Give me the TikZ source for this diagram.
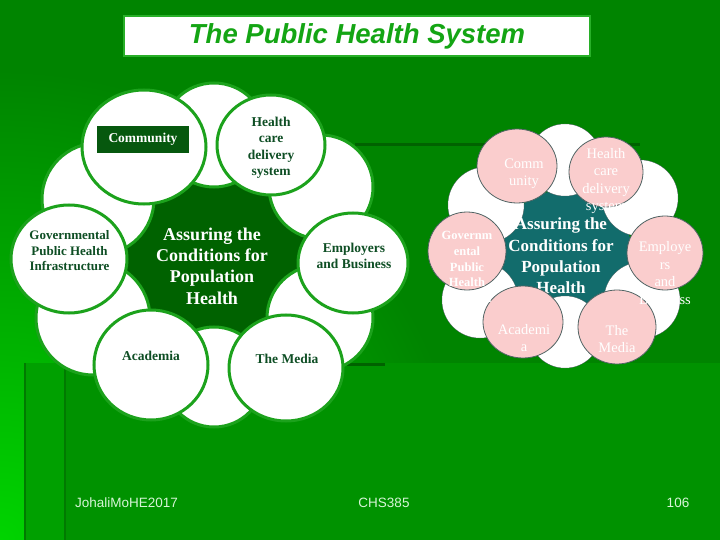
\documentclass[tikz,border=0pt]{standalone}
\usepackage{fontspec}
\setmainfont{Liberation Serif}
\newfontfamily\sansf{Liberation Sans}
\definecolor{bgbase}{RGB}{0,132,0}
\definecolor{bgbright}{RGB}{0,212,0}
\definecolor{panelg}{RGB}{0,146,0}
\definecolor{stripg}{RGB}{0,160,0}
\definecolor{edgeg}{RGB}{0,122,0}
\definecolor{darkline}{RGB}{0,98,0}
\definecolor{titleborder}{RGB}{40,175,40}
\definecolor{titlegreen}{RGB}{20,165,20}
\definecolor{lgborder}{RGB}{28,162,28}
\definecolor{centerdark}{RGB}{0,98,0}
\definecolor{textdark}{RGB}{14,78,36}
\definecolor{boxdark}{RGB}{6,88,14}
\definecolor{tealc}{RGB}{18,108,108}
\definecolor{pinkc}{RGB}{250,205,205}
\definecolor{pinkborder}{RGB}{80,100,100}
\definecolor{footc}{RGB}{215,245,215}
\begin{document}
\begin{tikzpicture}[x=1pt,y=-1pt,
  bgc/.style={fill=white, draw=lgborder, line width=3pt},
  mainc/.style={fill=white, draw=lgborder, line width=3pt},
  whc/.style={fill=white, draw=pinkborder, line width=0.5pt},
  whf/.style={fill=white},
  pinkcirc/.style={fill=pinkc, draw=pinkborder, line width=0.8pt},
  ltext/.style={text=textdark, align=center, inner sep=0pt, font=\bfseries\fontsize{13.5}{16.5}\selectfont},
  ctext/.style={text=white, align=center, inner sep=0pt, font=\bfseries\fontsize{18}{21.3}\selectfont},
  rtext/.style={text=white, align=center, inner sep=0pt, font=\fontsize{14.5}{17.4}\selectfont},
  foot/.style={text=footc, inner sep=0pt, font=\sansf\fontsize{13.5}{15}\selectfont}]
\useasboundingbox (0,0) rectangle (720,540);
% background
\fill[bgbase] (0,0) rectangle (720,540);
\begin{scope}
  \clip (0,0) rectangle (720,540);
  \shade[inner color=bgbright, outer color=bgbase] (0,540) circle[radius=470pt];
\end{scope}
\fill[panelg] (25,363) rectangle (720,540);
\fill[stripg] (25,363) rectangle (65,540);
\draw[edgeg, line width=1.5pt] (25,363) -- (25,540) (65,363) -- (65,540);
\draw[darkline, line width=3pt] (355,145) -- (640,145);
\draw[darkline, line width=3pt] (347,364) -- (385,364);
% title
\node[draw=titleborder, line width=2.5pt, fill=white, minimum width=466pt, minimum height=40pt, inner sep=0pt,
  text=titlegreen, font=\sansf\bfseries\itshape\fontsize{27.5}{30}\selectfont] (title) at (357,36) {The Public Health System};
% ---------------- left flower ----------------
\fill[centerdark] (212,262) circle[radius=96pt];
\draw[bgc] (214,135) circle[radius=52pt];
\draw[bgc] (98,199) circle[radius=56pt];
\draw[bgc] (321,187) circle[radius=52pt];
\draw[bgc] (93,318) circle[radius=57pt];
\draw[bgc] (320,318) circle[radius=53pt];
\draw[bgc] (214,377) circle[radius=50pt];
\draw[mainc] (144,147) ellipse[x radius=62pt, y radius=57pt];
\draw[mainc] (271,145) ellipse[x radius=54pt, y radius=50pt];
\draw[mainc] (353,263) ellipse[x radius=55pt, y radius=50pt];
\draw[mainc] (286,368) ellipse[x radius=57pt, y radius=53pt];
\draw[mainc] (151,365) ellipse[x radius=57pt, y radius=55pt];
\draw[mainc] (69,259) ellipse[x radius=58pt, y radius=54pt];
\node[ctext] (lcenter) at (212,266) {Assuring the\\Conditions for\\Population\\Health};
\node[fill=boxdark, text=white, minimum width=92pt, minimum height=27pt, inner sep=0pt,
  font=\bfseries\fontsize{13.5}{16}\selectfont] (lcomm) at (143,139.5) {Community};
\node[ltext] (lhealth) at (271,148) {Health\\care\\delivery\\system};
\node[ltext, font=\bfseries\fontsize{13}{15.5}\selectfont] (lgov) at (69.5,251) {Governmental\\Public Health\\Infrastructure};
\node[ltext] (lemp) at (354,256) {Employers\\and Business};
\node[ltext] (lacad) at (151,356) {Academia};
\node[ltext] (lmedia) at (287,359) {The Media};
% ---------------- right flower ----------------
\fill[tealc] (565,258) circle[radius=68pt];
\draw[whc] (565,160) circle[radius=36pt];
\draw[whc] (640,198) circle[radius=38pt];
\draw[whc] (642,300) circle[radius=38pt];
\draw[whc] (565,332) circle[radius=36pt];
\draw[whc] (480,300) circle[radius=38pt];
\draw[whc] (486,205) circle[radius=38pt];
\fill[whf] (565,160) circle[radius=35.7pt];
\fill[whf] (640,198) circle[radius=37.7pt];
\fill[whf] (642,300) circle[radius=37.7pt];
\fill[whf] (565,332) circle[radius=35.7pt];
\fill[whf] (480,300) circle[radius=37.7pt];
\fill[whf] (486,205) circle[radius=37.7pt];
\node[ctext, font=\bfseries\fontsize{17}{21.3}\selectfont] (rcenter) at (561,256) {Assuring the\\Conditions for\\Population\\Health};
\draw[pinkcirc] (517,166) ellipse[x radius=40pt, y radius=37pt];
\draw[pinkcirc] (606,172) ellipse[x radius=37pt, y radius=35pt];
\draw[pinkcirc] (665,253) ellipse[x radius=38pt, y radius=37pt];
\draw[pinkcirc] (617,327) ellipse[x radius=39pt, y radius=37pt];
\draw[pinkcirc] (523,322) ellipse[x radius=40pt, y radius=36pt];
\draw[pinkcirc] (467,251) ellipse[x radius=39pt, y radius=39pt];
\node[rtext] (rcomm) at (524,174) {Comm\\unity};
\node[rtext] (rhealth) at (606,181) {Health\\care\\delivery\\system};
\node[rtext, font=\bfseries\fontsize{12.5}{15.6}\selectfont] (rgov) at (467,267) {Governm\\ental\\Public\\Health\\Infrastru};
\node[rtext] (remp) at (665,273) {Employe\\rs\\and\\Business};
\node[rtext] (racad) at (524,338) {Academi\\a};
\node[rtext] (rmedia) at (617,339) {The\\Media};
% footer
\node[foot] (f1) at (126.5,503) {JohaliMoHE2017};
\node[foot] (f2) at (384,503) {CHS385};
\node[foot] (f3) at (678,503) {106};
\end{tikzpicture}
\end{document}
